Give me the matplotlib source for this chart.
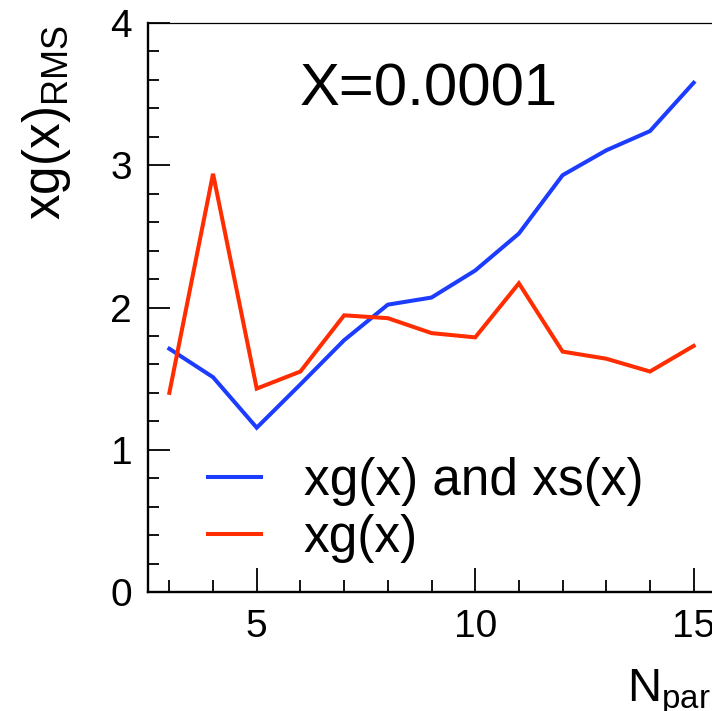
import matplotlib
matplotlib.use("Agg")
import matplotlib.pyplot as plt
from matplotlib.ticker import MultipleLocator

plt.rcParams['font.family'] = ['Liberation Sans', 'DejaVu Sans']
plt.rcParams['mathtext.fontset'] = 'custom'
plt.rcParams['mathtext.rm'] = 'Liberation Sans'
plt.rcParams['mathtext.it'] = 'Liberation Sans'

n_par = [3, 4, 5, 6, 7, 8, 9, 10, 11, 12, 13, 14, 15]
xg_and_xs = [1.71, 1.51, 1.155, 1.46, 1.77, 2.02, 2.07, 2.26, 2.52, 2.93, 3.105, 3.24, 3.58]
xg_only = [1.40, 2.94, 1.43, 1.55, 1.945, 1.925, 1.82, 1.79, 2.17, 1.69, 1.64, 1.55, 1.73]
labels = ["xg(x) and xs(x)", "xg(x)"]
colors = ["#1c3cff", "#ff2d00"]

W, H = 712, 711
fig = plt.figure(figsize=(W / 100, H / 100), dpi=100)
left, right, top, bottom = 147.5, 715.5, 23, 592
ax = fig.add_axes([left / W, 1 - bottom / H, (right - left) / W, (bottom - top) / H])

ax.plot(n_par, xg_and_xs, color=colors[0], lw=2.9, label=labels[0], solid_joinstyle='miter')
ax.plot(n_par, xg_only, color=colors[1], lw=2.9, label=labels[1], solid_joinstyle='miter')

ax.set_xlim(2.5, 15.5)
ax.set_ylim(0, 4)
ax.xaxis.set_major_locator(MultipleLocator(5))
ax.xaxis.set_minor_locator(MultipleLocator(1))
ax.yaxis.set_major_locator(MultipleLocator(1))
ax.yaxis.set_minor_locator(MultipleLocator(0.2))

ax.tick_params(axis='x', which='major', direction='in', length=17, width=1.3, labelsize=28, pad=12)
ax.tick_params(axis='x', which='minor', direction='in', length=8.5, width=1.3)
ax.tick_params(axis='y', which='major', direction='in', length=16, width=1.3, labelsize=28, pad=11)
ax.tick_params(axis='y', which='minor', direction='in', length=8, width=1.3)
ax.tick_params(top=False, right=False, which='both')

ax.spines['left'].set_linewidth(1.7)
ax.spines['bottom'].set_linewidth(1.7)
ax.spines['top'].set_linewidth(0.9)
ax.spines['right'].set_linewidth(0.9)

fig.text(46.5 / W, 1 - 25 / H, r'xg(x)$_{\mathrm{RMS}}$', rotation=90, ha='center', va='top', fontsize=37)
fig.text(627 / W, 1 - 702 / H, r'N$_{\mathrm{par}}$', ha='left', va='baseline', fontsize=34)

ax.text((300 - left) / (right - left), 1 - (105 - top) / (bottom - top), 'X=0.0001',
        transform=ax.transAxes, ha='left', va='baseline', fontsize=43)

leg = ax.legend(loc='center left', bbox_to_anchor=(208 / W, 1 - 510 / H),
                bbox_transform=fig.transFigure, frameon=False, fontsize=37,
                handlelength=1.04, handletextpad=0.82, labelspacing=0.14,
                borderpad=0, borderaxespad=0)

fig.savefig('out.png', dpi=100)
